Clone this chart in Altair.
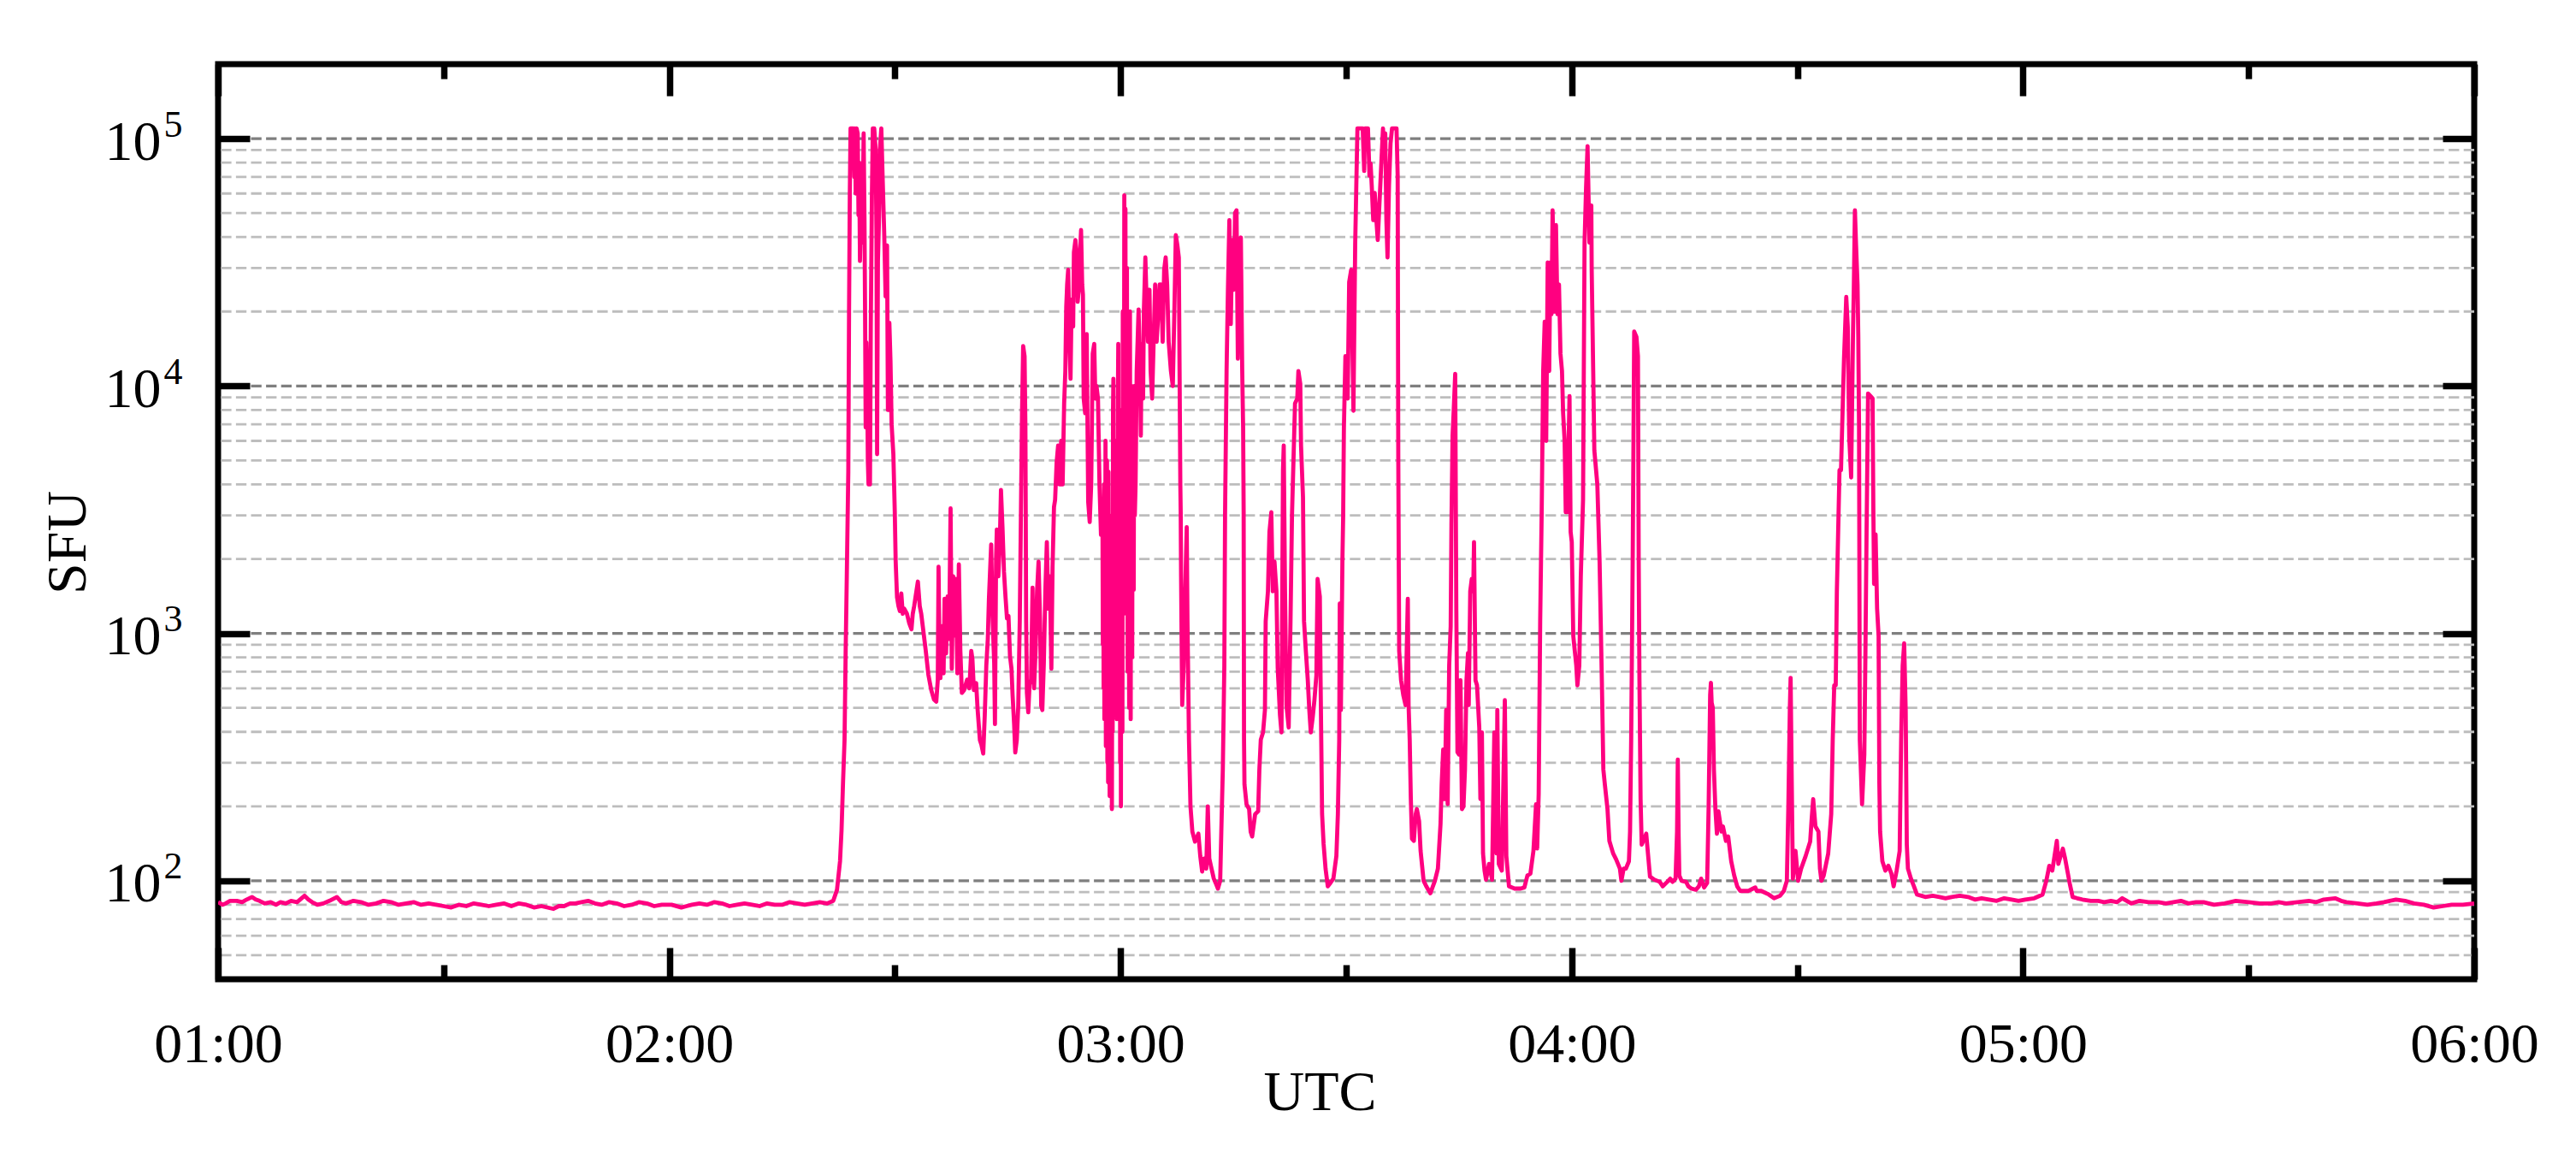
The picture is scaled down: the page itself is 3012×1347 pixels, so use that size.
import altair as alt
import pandas as pd

# ---------------- data: (minutes after 01:00 UTC, flux in SFU) ----------------
quiet_before = [(0, 82), (0.6, 80), (1, 81), (1.6, 83), (2.5, 83), (3.2, 82), (3.8, 84), (4.5, 86),
    (5.0, 84), (5.5, 83), (6.2, 81), (7, 82), (7.7, 80), (8.3, 82), (9, 81), (9.7, 83), (10.5, 82),
    (11.5, 87), (12.0, 84), (12.5, 82), (13.2, 80), (14, 81), (14.8, 83), (15.8, 86), (16.4, 82),
    (17, 81), (18, 83), (19, 82), (20, 80), (21, 81), (22, 83), (23, 82), (24, 80), (25, 81),
    (26, 82), (27, 80), (28, 81), (29, 80), (30, 79), (31, 78), (32, 80), (33, 79), (34, 81),
    (35, 80), (36, 79), (37, 80), (38, 81), (39, 79), (40, 81), (41, 80), (42, 78), (43, 79),
    (44.6, 77), (45.3, 79), (46, 79), (46.8, 81), (47.5, 81), (48.3, 82), (49.2, 83), (50.1, 81),
    (51, 80), (52, 82), (53, 81), (54, 79), (55, 80), (56, 82), (57, 81), (58, 79), (59, 80),
    (60.3, 80), (61.6, 78), (62.3, 79), (63, 80), (64, 81), (65, 80), (66, 82), (67, 81), (68, 79),
    (69, 80), (70, 81), (71, 80), (72, 79), (73, 81), (74, 80), (75, 80), (76, 82), (77, 81),
    (78, 80), (79, 81), (80, 82), (81, 81), (81.8, 83)]

first_burst = [(82.3, 92), (82.7, 120), (82.9, 160), (83.1, 250), (83.3, 370), (83.45, 850),
    (83.6, 1700), (83.8, 4500), (83.9, 20000), (84.0, 59000), (84.1, 110000), (84.3, 110000),
    (84.5, 110000), (84.6, 70000), (84.7, 110000), (84.78, 60000), (84.9, 110000), (85.05, 105000),
    (85.16, 49000), (85.25, 80000), (85.35, 32000), (85.45, 45000), (85.55, 38000), (85.7, 50000),
    (85.84, 105000), (85.95, 48000), (86.03, 20000), (86.11, 6800), (86.2, 15000), (86.3, 11500),
    (86.4, 5000), (86.49, 4000), (86.6, 4200), (86.68, 4000), (86.79, 17400), (86.94, 59000),
    (87.06, 110000), (87.25, 110000), (87.44, 90000), (87.55, 40000), (87.63, 5300), (87.74, 32000),
    (87.89, 48000), (88.0, 90000), (88.19, 110000), (88.38, 67000), (88.57, 42000), (88.76, 23000),
    (88.95, 37000), (89.07, 8000), (89.26, 18000), (89.41, 12600), (89.56, 7000), (89.79, 5300),
    (89.98, 3100), (90.1, 1950)]

decay_spikes = [(90.28, 1400), (90.47, 1290), (90.66, 1230), (90.85, 1450), (91.04, 1200),
    (91.23, 1260), (91.6, 1200), (91.9, 1100), (92.2, 1040), (92.37, 1200), (92.56, 1290),
    (92.75, 1410), (93.05, 1620), (93.3, 1290), (93.5, 1200), (93.7, 1070), (94.1, 850), (94.45, 680),
    (94.83, 590), (95.2, 540), (95.5, 530), (95.7, 650), (95.8, 1860), (95.9, 1000), (96.05, 660),
    (96.24, 1070), (96.47, 690), (96.6, 1380), (96.8, 830), (97.0, 1410), (97.2, 950), (97.4, 3200),
    (97.56, 720), (97.75, 1700), (97.95, 980), (98.1, 1660), (98.3, 690), (98.5, 1900), (98.7, 850),
    (98.9, 575), (99.2, 590), (99.6, 650), (99.9, 600), (100.15, 850), (100.3, 790), (100.5, 590),
    (100.8, 630), (101.0, 490), (101.3, 370), (101.5, 355), (101.74, 327), (101.95, 470),
    (102.15, 740), (102.35, 950), (102.5, 1380), (102.8, 2290), (103.0, 1120), (103.2, 760),
    (103.3, 430), (103.45, 2000), (103.55, 2630), (103.75, 1700), (103.95, 2340), (104.1, 3800),
    (104.3, 2700), (104.5, 1780), (104.7, 1410), (104.9, 1150), (105.1, 1175), (105.3, 810),
    (105.5, 720), (105.65, 560), (105.85, 430), (106.0, 330), (106.2, 370), (106.4, 510),
    (106.6, 1120), (106.9, 7760), (107.05, 14500), (107.24, 13200), (107.35, 6800), (107.45, 1120),
    (107.55, 575), (107.73, 480), (107.9, 620), (108.1, 650), (108.3, 1530), (108.5, 600),
    (108.7, 850), (108.9, 1480), (109.1, 1950), (109.3, 1120), (109.45, 510), (109.6, 490),
    (109.8, 760), (110.0, 1480), (110.2, 2340), (110.4, 1260), (110.6, 1700), (110.8, 720),
    (110.96, 1860), (111.15, 3240), (111.3, 3470), (111.5, 4900), (111.7, 5750), (111.9, 4000),
    (112.1, 6000), (112.3, 4000), (112.5, 8500), (112.66, 11500), (112.78, 20900), (112.9, 25700),
    (113.04, 29500), (113.2, 15100), (113.35, 10700), (113.5, 22400), (113.7, 17400), (113.8, 34700),
    (114.0, 38900), (114.2, 33100), (114.3, 21900), (114.5, 25700), (114.6, 33100), (114.75, 42700),
    (114.9, 25700), (115.0, 23400), (115.1, 8900), (115.3, 7760), (115.5, 16200), (115.7, 3400),
    (115.9, 2820), (116.1, 4000), (116.3, 13500), (116.5, 14800), (116.65, 8900), (116.8, 10000),
    (117.0, 8900), (117.2, 4000), (117.4, 2500), (117.6, 2800)]

dense_0300 = [(117.65, 900), (117.7, 3500), (117.75, 600), (117.8, 4000), (117.85, 450),
    (117.9, 2500), (117.95, 700), (118.0, 6000), (118.05, 350), (118.1, 3000), (118.15, 400),
    (118.2, 5000), (118.25, 300), (118.3, 2000), (118.35, 250), (118.4, 4500), (118.45, 600),
    (118.5, 3000), (118.55, 220), (118.6, 1800), (118.65, 500), (118.7, 2500), (118.75, 300),
    (118.8, 1500), (118.85, 195), (118.9, 1200), (118.95, 400), (119.0, 8000), (119.05, 10700),
    (119.1, 900), (119.15, 5000), (119.2, 700), (119.25, 6000), (119.3, 500), (119.35, 3500),
    (119.4, 600), (119.45, 4000), (119.5, 450), (119.55, 2500), (119.6, 800), (119.65, 9000),
    (119.7, 14800), (119.75, 1000), (119.8, 6000), (119.85, 700), (119.9, 5000), (119.95, 300),
    (120.0, 3000), (120.05, 200), (120.1, 8000), (120.15, 600), (120.2, 4000), (120.25, 400),
    (120.3, 20000), (120.35, 1500), (120.4, 9000), (120.45, 3000), (120.5, 59000), (120.55, 5000),
    (120.6, 2000), (120.65, 52000), (120.7, 3000), (120.75, 1200), (120.8, 25000), (120.85, 30000),
    (120.9, 2500), (120.95, 700), (121.0, 12000), (121.05, 15000), (121.1, 1500), (121.15, 500),
    (121.2, 9000), (121.25, 20000), (121.3, 2000), (121.35, 450), (121.4, 6000), (121.45, 10000),
    (121.5, 1500), (121.55, 800), (121.6, 5000), (121.65, 7000), (121.7, 2500), (121.75, 1500),
    (121.8, 8000), (121.85, 10000), (121.9, 3000), (122.0, 4000),
    (122.15, 11500), (122.4, 20400), (122.6, 11200), (122.7, 6300), (122.8, 14800), (123.0, 8900),
    (123.1, 20000), (123.3, 33100), (123.5, 20000), (123.65, 15100), (123.85, 24500), (124.0, 11500),
    (124.2, 8900), (124.4, 15100), (124.6, 25700), (124.8, 15100), (125.0, 19100), (125.2, 25700),
    (125.4, 25700), (125.6, 15100), (125.8, 29500), (126.0, 33100), (126.2, 25700), (126.4, 15100),
    (126.7, 11500), (126.95, 10000), (127.15, 19500), (127.35, 40700), (127.55, 37200),
    (127.75, 33100), (127.85, 11500), (127.95, 4000), (128.0, 3090), (128.05, 1700), (128.15, 740),
    (128.2, 513), (128.4, 740), (128.6, 1480), (128.8, 2690), (128.9, 1120), (129.1, 372),
    (129.3, 200), (129.55, 158), (129.9, 144), (130.2, 151), (130.35, 155), (130.6, 126),
    (130.85, 109), (131.1, 123), (131.4, 112), (131.6, 200), (131.8, 123), (132.1, 112),
    (132.4, 102), (132.65, 98), (132.95, 93), (133.25, 100), (133.4, 158), (133.6, 282),
    (133.8, 741), (133.9, 3090)]

mid_bursts = [(134.1, 11500), (134.28, 24500), (134.47, 46800), (134.6, 20000), (134.66, 17800),
    (134.85, 38900), (135.04, 24500), (135.23, 50100), (135.42, 51300), (135.6, 12900),
    (135.8, 38900), (136.0, 39800), (136.18, 11500), (136.3, 6800), (136.37, 3090), (136.42, 372),
    (136.48, 245), (136.75, 204), (137.1, 195), (137.3, 158), (137.5, 151), (137.9, 186),
    (138.3, 191), (138.46, 282), (138.65, 372), (138.95, 398), (139.2, 490), (139.3, 1120),
    (139.6, 1480), (139.8, 2570), (140.05, 3090), (140.24, 1480), (140.47, 1950), (140.73, 1480),
    (140.9, 724), (141.2, 468), (141.4, 398), (141.6, 4570), (141.7, 5750), (141.87, 1480),
    (142.06, 513), (142.36, 417), (142.6, 1120), (142.8, 3020), (143.2, 8500), (143.5, 8900),
    (143.65, 11500), (143.9, 10200), (144.0, 5750), (144.26, 3550), (144.4, 1120), (144.64, 850),
    (144.9, 646), (145.1, 490), (145.3, 398), (145.55, 457), (145.78, 537), (146.04, 676),
    (146.2, 1660), (146.5, 1410), (146.6, 646), (146.8, 186), (147.0, 141), (147.26, 112),
    (147.56, 95), (147.9, 98), (148.3, 102), (148.7, 126), (148.9, 186), (149.08, 372),
    (149.15, 1320), (149.3, 490), (149.5, 1950), (149.6, 2950), (149.7, 6760), (149.9, 13200),
    (150.2, 8900), (150.4, 26300), (150.67, 29500), (150.97, 7940), (151.2, 37200), (151.35, 64600),
    (151.5, 110000), (151.9, 110000), (152.2, 110000), (152.4, 74000), (152.5, 110000),
    (152.9, 110000), (153.1, 70800), (153.25, 79400), (153.4, 64600), (153.6, 46800), (153.8, 60300),
    (154.0, 47900), (154.2, 38900), (154.4, 52500), (154.6, 70800), (154.8, 95500), (154.9, 110000),
    (155.0, 89000), (155.2, 105000), (155.35, 46800), (155.5, 33100), (155.7, 64600), (155.9, 95500),
    (156.1, 110000), (156.7, 110000), (156.85, 70800), (156.93, 5250), (157.0, 1820), (157.05, 850),
    (157.3, 646), (157.6, 562), (157.9, 513), (158.2, 1380), (158.3, 513), (158.45, 372),
    (158.6, 214), (158.75, 148), (159.0, 145), (159.25, 186), (159.4, 195), (159.7, 174),
    (159.9, 132), (160.3, 100), (160.65, 95), (161.2, 89), (161.8, 100), (162.2, 112), (162.55, 170),
    (162.7, 245), (162.9, 339), (163.1, 214), (163.3, 490), (163.5, 204), (163.7, 741), (163.9, 1070),
    (164.0, 2750), (164.15, 6300), (164.3, 7940), (164.5, 11200), (164.65, 1230), (164.8, 331),
    (165.0, 324), (165.2, 646), (165.4, 195), (165.6, 200), (165.8, 282), (166.0, 646), (166.2, 832),
    (166.3, 513), (166.5, 1480), (166.7, 1660), (166.9, 1480), (167.0, 2340), (167.2, 646),
    (167.4, 617), (167.7, 417), (167.85, 214), (168.05, 398), (168.2, 129), (168.4, 110),
    (168.6, 101), (169.0, 117), (169.4, 101), (169.7, 398), (170.0, 129), (170.1, 490), (170.3, 117),
    (170.7, 110), (171.1, 537), (171.3, 126), (171.65, 95), (172.4, 93), (173.2, 93), (173.7, 94),
    (174.1, 105), (174.5, 107), (174.9, 132), (175.25, 204), (175.4, 135), (175.6, 224)]

late_bursts = [(175.8, 1120), (176.0, 3090), (176.2, 11500), (176.4, 18200), (176.6, 6000),
    (176.8, 31600), (177.0, 11500), (177.15, 31600), (177.3, 19500), (177.45, 51300), (177.7, 20000),
    (177.9, 44700), (178.1, 19500), (178.3, 25700), (178.5, 13500), (178.7, 11500), (178.85, 7760),
    (179.05, 6000), (179.2, 3090), (179.4, 3090), (179.7, 9100), (179.85, 2570), (180.0, 2340),
    (180.2, 977), (180.4, 851), (180.6, 741), (180.75, 617), (181.0, 741), (181.2, 1700),
    (181.5, 3470), (181.7, 38000), (181.9, 63100), (182.1, 93300), (182.35, 38000), (182.6, 53700),
    (182.65, 29500), (182.85, 11500), (183.0, 5500), (183.4, 4000), (183.7, 1950), (184.0, 646),
    (184.2, 282), (184.4, 245), (184.75, 195), (185.0, 145), (185.5, 129), (185.9, 122),
    (186.4, 112), (186.6, 100), (186.9, 112), (187.2, 112), (187.6, 120), (187.75, 158),
    (187.9, 372), (188.1, 1950), (188.3, 16600), (188.6, 15800), (188.8, 13200), (188.9, 1950),
    (189.0, 646), (189.15, 214), (189.3, 140), (189.65, 148), (189.9, 155), (190.2, 122),
    (190.4, 104), (191.0, 101), (191.7, 99), (192.1, 95), (192.7, 99), (193.1, 102), (193.4, 99),
    (193.8, 102), (194.0, 158), (194.1, 309), (194.2, 158), (194.3, 105), (194.6, 100), (195.2, 99),
    (195.5, 95), (195.9, 93), (196.5, 92), (196.9, 95), (197.2, 102), (197.6, 94), (198.0, 98),
    (198.2, 200), (198.4, 562), (198.5, 631), (198.6, 525), (198.75, 501), (198.9, 282),
    (199.1, 195), (199.3, 155), (199.5, 191), (199.9, 158), (200.1, 166), (200.5, 145),
    (200.8, 151), (201.2, 120), (201.6, 105), (202.0, 95), (202.4, 91), (203.5, 91), (204.1, 93),
    (204.4, 94), (204.6, 91), (205.2, 91), (206.2, 88), (206.9, 85), (207.7, 87), (208.2, 91),
    (208.6, 100), (208.8, 200), (209.0, 501), (209.1, 661), (209.25, 251), (209.4, 102),
    (209.75, 132), (210.1, 100), (210.5, 112), (211.1, 126), (211.7, 144), (211.9, 178),
    (212.1, 214), (212.4, 166), (212.8, 158), (213.0, 112), (213.2, 100), (213.5, 105),
    (214.1, 129), (214.5, 186), (214.7, 372), (214.9, 617), (215.1, 617), (215.25, 1480),
    (215.6, 4570), (215.8, 4570), (216.2, 12900), (216.5, 22900), (216.7, 17400), (216.9, 6170),
    (217.15, 4270), (217.4, 16600), (217.5, 24500), (217.65, 51300), (217.8, 37200), (218.0, 25700),
    (218.1, 15800), (218.2, 6760), (218.3, 372), (218.6, 204), (218.9, 324), (219.05, 851),
    (219.2, 2570), (219.4, 9330), (219.7, 9120), (220.0, 8910), (220.1, 3160), (220.2, 1585),
    (220.4, 2510), (220.6, 1260), (220.8, 977), (220.9, 245), (221.0, 158), (221.3, 120),
    (221.7, 110), (222.1, 115), (222.5, 107), (222.8, 95), (223.2, 110), (223.6, 132), (223.8, 372),
    (224.0, 741), (224.2, 912), (224.4, 490), (224.55, 140), (224.7, 112), (225.1, 102),
    (225.5, 95), (225.9, 88)]

quiet_after = [(226.5, 87), (227.0, 86), (228.0, 87), (228.9, 86), (229.7, 85), (230.5, 86),
    (231.6, 87), (232.7, 86), (233.6, 84), (234.5, 85), (235.5, 84), (236.5, 83), (237.5, 85),
    (238.5, 84), (239.4, 83), (240.3, 84), (241.5, 85), (242.6, 88), (243.1, 100), (243.5, 115),
    (243.9, 110), (244.5, 145), (244.7, 117), (245.3, 135), (245.6, 123), (246.2, 98), (246.6, 86),
    (247.2, 85), (247.9, 84), (249.0, 83), (250, 83), (250.8, 82), (251.7, 83), (252.5, 82),
    (253.2, 85), (254.4, 81), (255.5, 83), (256.7, 82), (258, 82), (259, 81), (260, 82), (261, 83),
    (262, 81), (263, 82), (264, 82), (265.4, 80), (266.8, 81), (268.3, 83), (270, 82), (271.5, 81),
    (273, 81), (274, 82), (275, 81), (276.5, 82), (278, 83), (279, 82), (280, 84), (281.5, 85),
    (282.3, 83), (283, 82), (284.5, 81), (285.8, 80), (287, 81), (288, 82), (289.6, 84), (290.8, 83),
    (292, 81), (293.3, 80), (294.6, 78), (295.8, 79), (297, 80), (298.5, 80), (300, 81)]

tick_hours = [1, 1.5, 2, 2.5, 3, 3.5, 4, 4.5, 5, 5.5, 6]
decades = [100, 1000, 10000, 100000]
minor_grid = [50, 60, 70, 80, 90, 200, 300, 400, 500, 600, 700, 800, 900,
              2000, 3000, 4000, 5000, 6000, 7000, 8000, 9000,
              20000, 30000, 40000, 50000, 60000, 70000, 80000, 90000]

FONT = "Liberation Serif"
LINE_COLOR = "#ff0080"
MAJOR_GRID = "#7f7f7f"
MINOR_GRID = "#bdbdbd"

# ---------------- tables ----------------
series = quiet_before + first_burst + decay_spikes + dense_0300 + mid_bursts + late_bursts + quiet_after
data = pd.DataFrame(series, columns=["minute", "sfu"])
data["hour"] = 1 + data["minute"] / 60.0

grid = pd.DataFrame({
    "v": minor_grid + decades,
    "color": [MINOR_GRID] * len(minor_grid) + [MAJOR_GRID] * len(decades),
    "w": [2.8] * len(minor_grid) + [3.3] * len(decades),
})
edges = pd.DataFrame({"hour": [1, 6], "sfu": [100, 100]})

xscale = alt.Scale(domain=[1, 6], nice=False, zero=False)
yscale = alt.Scale(type="log", domain=[40, 200000], nice=False)

W, H = 2638, 1070
TICK = 37
TW = 7.5
minor_dash = {"condition": {"test": "datum.value % 1 != 0", "value": [0, 20, 17, 100]},
              "value": []}

# grid lines + left ticks with the "10" mantissa labels
grid_layer = alt.Chart(grid).mark_rule(strokeDash=[12.3, 5.3]).encode(
    y=alt.Y("v:Q", scale=yscale, axis=alt.Axis(
        orient="left", values=decades, labelExpr="'10'", offset=-TICK, tickSize=TICK,
        tickWidth=TW, tickColor="black", domain=False, grid=False, labelFontSize=66,
        labelPadding=67, labelOffset=4, labelAlign="right", labelBaseline="middle",
        labelOverlap=False, labelFlush=False, title=None, zindex=2)),
    color=alt.Color("color:N", scale=None),
    strokeWidth=alt.StrokeWidth("w:Q", scale=None),
)

# data line + bottom axis + exponent labels
line_layer = alt.Chart(data).mark_line(color=LINE_COLOR, strokeWidth=4.8, clip=True,
                                       strokeJoin="round").encode(
    x=alt.X("hour:Q", scale=xscale, axis=alt.Axis(
        orient="bottom", values=tick_hours,
        labelExpr="datum.value % 1 == 0 ? '0' + datum.value + ':00' : ''",
        offset=-TICK, tickSize=TICK, tickWidth=TW, tickColor="black", tickDash=minor_dash,
        domain=False, grid=False, labelFontSize=66, labelPadding=44, labelFlush=False,
        labelOverlap=False, title="UTC", titleFontSize=66, titleX=1288, titleY=189,
        titleAlign="center", titleBaseline="alphabetic", titleFontWeight="normal", zindex=2)),
    y=alt.Y("sfu:Q", scale=yscale, axis=alt.Axis(
        orient="left", values=decades,
        labelExpr="'' + round(log(datum.value) / LN10)",
        ticks=False, domain=False, grid=False, labelFontSize=44, labelPadding=64,
        labelAlign="left", labelBaseline="middle", labelOffset=-16, labelOverlap=False,
        labelFlush=False, title="SFU", titleFontSize=66, titleAngle=270, titleX=-176,
        titleY=559, titleAlign="center", titleBaseline="middle", titleFontWeight="normal")),
    order="minute:Q",
)

# mirrored ticks on the top and right sides
mirror_layer = alt.Chart(edges).mark_point(opacity=0, size=1).encode(
    x=alt.X("hour:Q", scale=xscale, axis=alt.Axis(
        orient="top", values=tick_hours, labels=False, offset=-TICK, tickSize=TICK,
        tickWidth=TW, tickColor="black", tickDash=minor_dash, domain=False, grid=False,
        title=None, zindex=2)),
    y=alt.Y("sfu:Q", scale=yscale, axis=alt.Axis(
        orient="right", values=decades, labels=False, offset=-TICK, tickSize=TICK,
        tickWidth=TW, tickColor="black", domain=False, grid=False, title=None, zindex=2)),
)

chart = alt.layer(grid_layer, line_layer, mirror_layer).resolve_axis(
    x="independent", y="independent"
).properties(
    width=W, height=H,
    autosize=alt.AutoSizeParams(type="none"),
    padding={"left": 247, "top": 67, "right": 100, "bottom": 190},
    background="white",
).configure_view(
    stroke="black", strokeWidth=7
).configure_axis(
    labelFont=FONT, titleFont=FONT, labelColor="black", titleColor="black"
)

chart.save("out.html", embed_options={"renderer": "svg", "actions": False})
